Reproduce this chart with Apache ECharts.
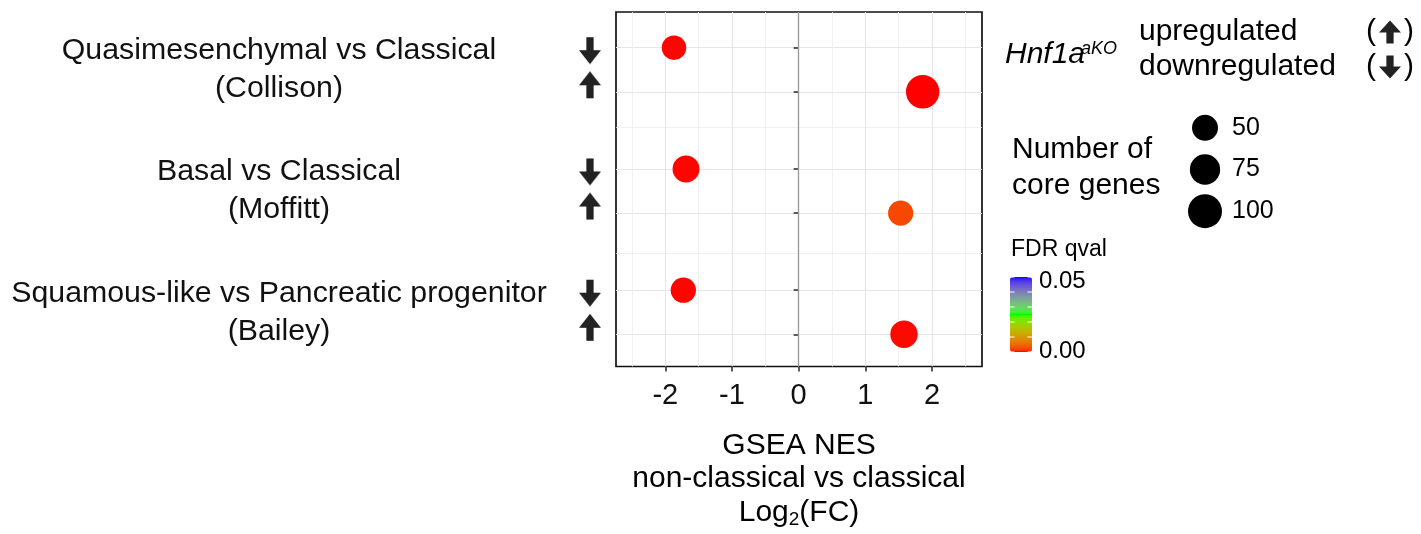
<!DOCTYPE html>
<html><head><meta charset="utf-8">
<script src="https://cdn.jsdelivr.net/npm/echarts@6/dist/echarts.min.js"></script>
<style>html,body{margin:0;padding:0;background:#fff}#c{width:1421px;height:534px}</style>
</head><body><div id="c"></div>
<script>
// ---------------- data ----------------
const groupNames = ['Quasimesenchymal vs Classical\n(Collison)', 'Basal vs Classical\n(Moffitt)', 'Squamous-like vs Pancreatic progenitor\n(Bailey)'];
const rowGroup = [0, 0, 1, 1, 2, 2];
const rowDirection = ['down', 'up', 'down', 'up', 'down', 'up'];
const rowPos = [7.5, 6.5, 4.75, 3.75, 2, 1];
const nes = [-1.87, 1.86, -1.69, 1.53, -1.73, 1.58];
const fdrQ = [0.0001, 0, 0.0001, 0.0023, 0.0001, 0.0002];
const coreGenes = [42, 96, 55, 46, 46, 58];
const xTicks = [-2, -1, 0, 1, 2];
const xMinorTicks = [-2.5, -1.5, -0.5, 0.5, 1.5, 2.5];
const yMinorTicks = [2.83, 5.7];
const sizeBreaks = [50, 75, 100];
const fdrTickValues = [0, 0.01, 0.02, 0.03, 0.04, 0.05];
const fdrLabels = ['0.05', '0.00'];

// ---------------- helpers ----------------
const FONT = "'Liberation Sans', Arial, sans-serif";
const X_MIN = -2.74, X_MAX = 2.75, Y_MIN = 0.27, Y_MAX = 8.31;
const FDR_MIN = 0, FDR_MAX = 0.05;

function sizeOf(n) { // area linear in value: 50 -> 26px, 100 -> 34px
  const a50 = 26 * 26, a100 = 34 * 34;
  return Math.sqrt(Math.max(20, a50 + (a100 - a50) * (n - 50) / 50));
}
function hexToRgb(h) { return [1, 3, 5].map(i => parseInt(h.substr(i, 2), 16) / 255); }
function lin(c) { return c <= 0.04045 ? c / 12.92 : Math.pow((c + 0.055) / 1.055, 2.4); }
function gam(c) { c = Math.min(1, Math.max(0, c)); return c <= 0.0031308 ? 12.92 * c : 1.055 * Math.pow(c, 1 / 2.4) - 0.055; }
function rgb2lab(rgb) {
  const [r, g, b] = rgb.map(lin);
  const X = (0.4124 * r + 0.3576 * g + 0.1805 * b) / 0.95047, Y = 0.2126 * r + 0.7152 * g + 0.0722 * b, Z = (0.0193 * r + 0.1192 * g + 0.9505 * b) / 1.08883;
  const f = t => t > 0.008856 ? Math.cbrt(t) : 7.787 * t + 16 / 116;
  const fx = f(X), fy = f(Y), fz = f(Z);
  return [116 * fy - 16, 500 * (fx - fy), 200 * (fy - fz)];
}
function lab2hex(L, a, b) {
  const fy = (L + 16) / 116, fx = fy + a / 500, fz = fy - b / 200;
  const fi = t => t > 0.206893 ? t * t * t : (t - 16 / 116) / 7.787;
  const X = fi(fx) * 0.95047, Y = fi(fy), Z = fi(fz) * 1.08883;
  const r = 3.2406 * X - 1.5372 * Y - 0.4986 * Z, g = -0.9689 * X + 1.8758 * Y + 0.0415 * Z, bb = 0.0557 * X - 0.2040 * Y + 1.0570 * Z;
  return '#' + [r, g, bb].map(c => Math.round(gam(c) * 255).toString(16).padStart(2, '0')).join('');
}
function labRamp(anchors, n) {
  const labs = anchors.map(h => rgb2lab(hexToRgb(h)));
  const out = [];
  for (let i = 0; i < n; i++) {
    const t = i / (n - 1) * (labs.length - 1);
    const k = Math.min(labs.length - 2, Math.floor(t)), f = t - k;
    const A = labs[k], B = labs[k + 1];
    out.push(lab2hex(A[0] + (B[0] - A[0]) * f, A[1] + (B[1] - A[1]) * f, A[2] + (B[2] - A[2]) * f));
  }
  return out;
}
const ramp = labRamp(['#FF0000', '#00FF00', '#0000FF'], 51);

function arrowCanvas(dir, W, H, boxW, boxH, offY) {
  const c = document.createElement('canvas'); c.width = boxW; c.height = boxH;
  const g = c.getContext('2d'); g.fillStyle = '#222';
  const x0 = (boxW - W) / 2, y0 = offY, sw = W * 0.33, hh = H * 0.52;
  g.beginPath();
  if (dir === 'down') {
    g.moveTo(x0 + (W - sw) / 2, y0); g.lineTo(x0 + (W + sw) / 2, y0); g.lineTo(x0 + (W + sw) / 2, y0 + H - hh);
    g.lineTo(x0 + W, y0 + H - hh); g.lineTo(x0 + W / 2, y0 + H); g.lineTo(x0, y0 + H - hh); g.lineTo(x0 + (W - sw) / 2, y0 + H - hh);
  } else {
    g.moveTo(x0 + W / 2, y0); g.lineTo(x0 + W, y0 + hh); g.lineTo(x0 + (W + sw) / 2, y0 + hh); g.lineTo(x0 + (W + sw) / 2, y0 + H);
    g.lineTo(x0 + (W - sw) / 2, y0 + H); g.lineTo(x0 + (W - sw) / 2, y0 + hh); g.lineTo(x0, y0 + hh);
  }
  g.closePath(); g.fill(); return c;
}
const downRow = arrowCanvas('down', 22, 27, 22, 33, 6);
const upRow = arrowCanvas('up', 22, 27, 22, 41, 0);
const downLeg = arrowCanvas('down', 22, 23, 28, 30, 3.5);
const upLeg = arrowCanvas('up', 22, 23, 28, 30, 3.5);

const groupCenters = groupNames.map((_, gi) => {
  const ps = rowPos.filter((_, i) => rowGroup[i] === gi);
  return ps.reduce((a, b) => a + b, 0) / ps.length;
});
function nearestIndex(arr, v) { let b = 0; arr.forEach((a, i) => { if (Math.abs(a - v) < Math.abs(arr[b] - v)) b = i; }); return b; }

const mainData = rowPos.map((y, i) => [nes[i], y, fdrQ[i], coreGenes[i]]);
const legendData = sizeBreaks.map(v => [0, String(v), v]);

// colorbar ticks (white) and legend texts
const barLeft = 1010, barTop = 277, barW = 22, barH = 75;
const graphics = [];
fdrTickValues.forEach(v => {
  const y = barTop + barH * (1 - (v - FDR_MIN) / (FDR_MAX - FDR_MIN));
  graphics.push({ type: 'line', shape: { x1: barLeft, y1: y, x2: barLeft + 4.5, y2: y }, style: { stroke: '#fff', lineWidth: 1 }, z: 100 });
  graphics.push({ type: 'line', shape: { x1: barLeft + barW - 4.5, y1: y, x2: barLeft + barW, y2: y }, style: { stroke: '#fff', lineWidth: 1 }, z: 100 });
});
const txt = (x, y, text, extra) => ({ type: 'text', x, y, z: 100, style: Object.assign({ text, fontFamily: FONT, fontSize: 30, fill: '#000', verticalAlign: 'middle', align: 'left' }, extra || {}) });
graphics.push(txt(1005, 55, 'Hnf1a', { fontStyle: 'italic' }));
graphics.push(txt(1081, 48.5, 'aKO', { fontStyle: 'italic', fontSize: 18 }));
graphics.push(txt(1139, 32, 'upregulated'));
graphics.push(txt(1139, 67, 'downregulated'));
graphics.push(txt(1366, 32, '{p|(}{u| }{p|)}', { rich: { p: { fontSize: 30, fontFamily: FONT, fill: '#000' }, u: { width: 28, height: 30, backgroundColor: { image: upLeg } } } }));
graphics.push(txt(1366, 67, '{p|(}{d| }{p|)}', { rich: { p: { fontSize: 30, fontFamily: FONT, fill: '#000' }, d: { width: 28, height: 30, backgroundColor: { image: downLeg } } } }));
graphics.push(txt(1012, 168, 'Number of\ncore genes', { lineHeight: 36 }));
graphics.push(txt(1011, 250, 'FDR qval', { fontSize: 23 }));
graphics.push(txt(1039, 281, fdrLabels[0], { fontSize: 24 }));
graphics.push(txt(1039, 351, fdrLabels[1], { fontSize: 24 }));

const gridLine = { color: '#E6E6E6', width: 1.1 };
const minorLine = { color: '#EDEDED', width: 0.8 };

const option = {
  animation: false,
  backgroundColor: '#fff',
  grid: [
    { left: 616, top: 12, width: 366, height: 355, show: true, borderColor: '#111', borderWidth: 1.7, backgroundColor: '#fff', z: 0 },
    { left: 1190, top: 107, width: 30, height: 125, show: false }
  ],
  xAxis: [
    { type: 'value', gridIndex: 0, min: X_MIN, max: X_MAX, position: 'bottom',
      axisLine: { show: false },
      axisTick: { show: true, customValues: xTicks, length: 5, lineStyle: { color: '#333', width: 1.6 } },
      axisLabel: { customValues: xTicks, margin: 15, fontSize: 29, color: '#111', fontFamily: FONT },
      splitLine: { show: true, lineStyle: gridLine },
      name: 'GSEA NES\nnon-classical vs classical\nLog{sub|2}(FC)', nameLocation: 'middle', nameGap: 62,
      nameTextStyle: { fontSize: 30, lineHeight: 33.5, color: '#000', fontFamily: FONT,
        rich: { sub: { fontSize: 19, lineHeight: 19, verticalAlign: 'bottom', fontFamily: FONT, color: '#000' } } } },
    { type: 'value', gridIndex: 0, min: X_MIN, max: X_MAX, position: 'top',
      axisLine: { show: false }, axisLabel: { show: false },
      axisTick: { show: false, customValues: xMinorTicks },
      splitLine: { show: true, lineStyle: minorLine } },
    { type: 'value', gridIndex: 1, min: -1, max: 1, show: false }
  ],
  yAxis: [
    { type: 'value', gridIndex: 0, min: Y_MIN, max: Y_MAX, position: 'left',
      axisLine: { show: false },
      axisTick: { show: true, customValues: rowPos, length: 5, lineStyle: { color: '#333', width: 1.6 } },
      axisLabel: { customValues: rowPos, margin: 15,
        formatter: v => rowDirection[nearestIndex(rowPos, v)] === 'up' ? '{up| }' : '{down| }',
        rich: { up: { width: 22, height: 41, backgroundColor: { image: upRow } },
                down: { width: 22, height: 33, backgroundColor: { image: downRow } } } },
      splitLine: { show: true, lineStyle: gridLine } },
    { type: 'value', gridIndex: 0, min: Y_MIN, max: Y_MAX, position: 'right',
      axisLine: { show: false }, axisLabel: { show: false },
      axisTick: { show: false, customValues: yMinorTicks },
      splitLine: { show: true, lineStyle: minorLine } },
    { type: 'value', gridIndex: 0, min: Y_MIN, max: Y_MAX, position: 'left',
      axisLine: { show: false }, axisTick: { show: false }, splitLine: { show: false },
      axisLabel: { customValues: groupCenters, margin: 337, align: 'center', fontSize: 30.3, lineHeight: 38, color: '#111', fontFamily: FONT,
        formatter: v => groupNames[nearestIndex(groupCenters, v)] } },
    { type: 'category', gridIndex: 1, data: sizeBreaks.map(String).reverse(), position: 'right',
      axisLine: { show: false }, axisTick: { show: false }, splitLine: { show: false },
      axisLabel: { margin: 12, fontSize: 25, color: '#000', fontFamily: FONT } }
  ],
  visualMap: [{
    type: 'continuous', seriesIndex: 0, dimension: 2, min: FDR_MIN, max: FDR_MAX,
    inRange: { color: ramp }, left: barLeft, top: barTop, itemWidth: barW, itemHeight: barH,
    padding: 0, text: null, calculable: false, orient: 'vertical', hoverLink: false
  }],
  graphic: graphics,
  series: [
    { type: 'scatter', xAxisIndex: 0, yAxisIndex: 0, data: mainData,
      symbolSize: v => sizeOf(v[3]), itemStyle: { opacity: 1 }, emphasis: { disabled: true }, z: 5,
      markLine: { silent: true, symbol: ['none', 'none'], label: { show: false }, animation: false,
        lineStyle: { color: '#999', width: 1.3, type: 'solid' }, data: [{ xAxis: 0 }] } },
    { type: 'scatter', xAxisIndex: 2, yAxisIndex: 3, data: legendData,
      symbolSize: v => sizeOf(v[2]), itemStyle: { color: '#000', opacity: 1 }, emphasis: { disabled: true } }
  ]
};
const chart = echarts.init(document.getElementById('c'), null, { renderer: 'canvas' });
chart.setOption(option);
</script>
</body></html>
